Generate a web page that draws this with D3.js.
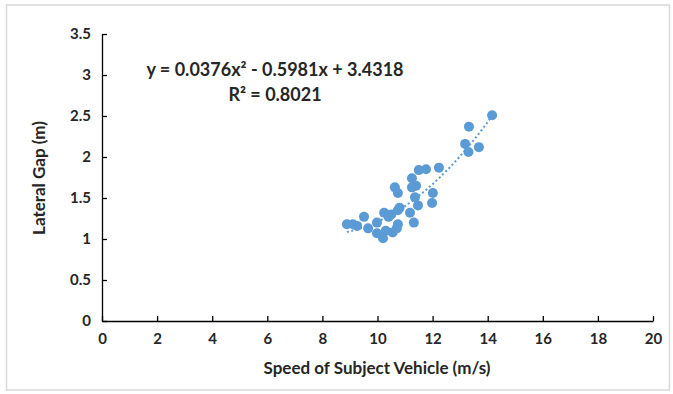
<!DOCTYPE html>
<html><head><meta charset="utf-8">
<script src="https://cdn.jsdelivr.net/npm/d3@7"></script>
<style>
html,body{margin:0;padding:0;background:#fff;}
svg text{font-family:Lato,"Open Sans",sans-serif;font-weight:bold;fill:#262626;}
</style></head>
<body>
<svg id="c" width="673" height="394"></svg>
<script>
const speed = [8.89,9.11,9.26,9.51,9.66,9.98,9.98,10.2,10.3,10.24,10.4,10.5,10.63,10.74,10.74,10.7,10.74,11.25,11.25,11.4,11.36,11.47,11.18,11.32,11.5,11.76,12.23,12.01,11.98,13.18,13.3,13.32,13.68,14.16,10.55,10.45,10.8];
const gap   = [1.18,1.18,1.16,1.27,1.13,1.20,1.07,1.01,1.10,1.32,1.27,1.30,1.63,1.56,1.35,1.13,1.18,1.74,1.63,1.65,1.51,1.41,1.32,1.20,1.84,1.85,1.87,1.56,1.44,2.16,2.06,2.37,2.12,2.51,1.08,1.29,1.38];
const xTicks = [0,2,4,6,8,10,12,14,16,18,20];
const yTicks = [0,0.5,1,1.5,2,2.5,3,3.5];
const trendCoef = [0.0376,-0.5981,3.4318];
const eqLines = ["y = 0.0376x\u00B2 - 0.5981x + 3.4318","R\u00B2 = 0.8021"];
const xTitle = "Speed of Subject Vehicle (m/s)";
const yTitle = "Lateral Gap (m)";

const svg = d3.select("#c");
const col = "#5B9BD5";
svg.append("rect").attr("x",6.5).attr("y",5).attr("width",663).attr("height",385)
  .attr("fill","#fff").attr("stroke","#d9d9d9").attr("stroke-width",1.5);

const x = d3.scaleLinear().domain([0,20]).range([102,653]);
const y = d3.scaleLinear().domain([0,3.5]).range([321,34]);

const xa = svg.append("g").attr("transform","translate(0,321)")
  .call(d3.axisBottom(x).tickValues(xTicks).tickSizeInner(-5).tickSizeOuter(0).tickPadding(12));
const ya = svg.append("g").attr("transform","translate(102,0)")
  .call(d3.axisLeft(y).tickValues(yTicks).tickSizeInner(-5).tickSizeOuter(0).tickPadding(12).tickFormat(d3.format("")));
[xa,ya].forEach(g=>{
  g.select(".domain").attr("stroke","#000").attr("stroke-width",1.3);
  g.selectAll(".tick line").attr("stroke","#000").attr("stroke-width",1.3);
  g.selectAll(".tick text").style("font-size","15px").attr("fill","#262626");
});
ya.selectAll(".tick text").attr("x",-11);

// points
const pts = speed.map((s,i)=>[s,gap[i]]);
svg.append("g").selectAll("circle").data(pts).join("circle")
  .attr("cx",d=>x(d[0])).attr("cy",d=>y(d[1])).attr("r",5).attr("fill",col);

// trendline
const xmin = d3.min(speed), xmax = d3.max(speed);
const f = v => trendCoef[0]*v*v + trendCoef[1]*v + trendCoef[2];
const tl = d3.range(0,101).map(i=>{const v=xmin+(xmax-xmin)*i/100; return [v,f(v)];});
svg.append("path").datum(tl).attr("fill","none").attr("stroke",col).attr("stroke-width",2)
  .attr("stroke-dasharray","2,2.5")
  .attr("d",d3.line().x(d=>x(d[0])).y(d=>y(d[1])));

// equation
svg.append("text").attr("x",275).attr("y",76).attr("text-anchor","middle").style("font-size","18px").text(eqLines[0]);
svg.append("text").attr("x",275).attr("y",101).attr("text-anchor","middle").style("font-size","18px").text(eqLines[1]);

// titles
svg.append("text").attr("x",377).attr("y",374).attr("text-anchor","middle").style("font-size","17px").text(xTitle);
svg.append("text").attr("transform","translate(45,178) rotate(-90)").attr("text-anchor","middle").style("font-size","17px").text(yTitle);
</script>
</body></html>
